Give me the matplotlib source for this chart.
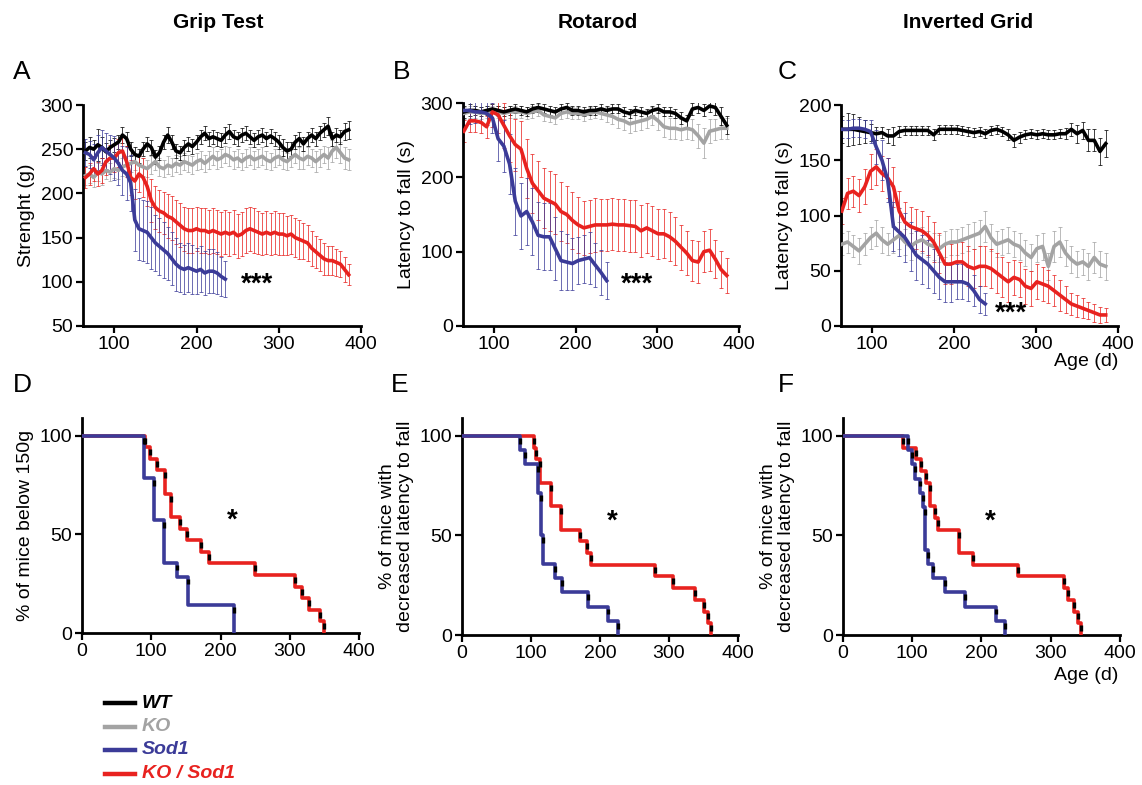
import numpy as np
import matplotlib
matplotlib.use("Agg")
import matplotlib.pyplot as plt
from matplotlib.lines import Line2D

plt.rcParams['font.family'] = ['Liberation Sans', 'DejaVu Sans']

# ---------------- colours ----------------
C_WT, C_KO, C_SOD, C_KOSOD = '#000000', '#a3a3a3', '#3b3b98', '#e8221f'

# ---------------- Panel A: Grip test (age step 5 d) ----------------
ageA = np.arange(65, 386, 5)
ageA_sod = np.arange(65, 236, 5)
gripWT = [248,252,250,255,252,247,252,255,258,266,
          262,250,244,242,250,256,252,241,246,258,
          266,258,248,246,252,256,253,258,264,268,
          262,264,262,260,266,270,264,262,266,268,
          264,260,264,266,262,265,262,258,252,248,
          250,258,262,256,262,266,262,268,272,276,
          262,266,264,270,272]
gripWT_err = [10,12,10,18,12,10,8,8,8,9,
              8,8,8,8,8,8,8,8,8,8,
              9,8,8,8,8,8,8,8,8,8,
              8,8,8,8,9,8,8,8,8,8,
              8,8,8,8,8,8,8,8,10,10,
              8,8,8,8,8,8,8,8,8,10,
              8,8,8,10,10]
gripKO = [220,222,218,224,222,226,224,228,226,230,
          232,234,236,232,230,228,232,236,230,228,
          232,230,234,232,236,234,232,236,238,234,
          238,242,238,240,244,242,238,240,236,240,
          242,238,240,242,238,236,240,242,238,236,
          240,244,240,238,242,240,236,240,244,240,
          248,252,246,240,238]
gripKO_err = [10,10,11,10,12,10,10,11,10,10,
              10,10,10,11,10,10,10,10,10,10,
              10,10,10,10,10,10,10,10,10,10,
              10,10,10,10,10,11,10,10,10,10,
              10,10,10,10,10,10,10,10,10,10,
              10,10,12,10,10,10,12,10,10,12,
              12,12,12,12,12]
gripSOD = [246,244,238,246,252,248,244,240,234,226,
           222,212,170,160,158,156,150,144,140,136,
           132,126,120,116,114,116,114,112,114,110,
           112,112,110,106,103]
gripSOD_err = [15,15,18,20,20,20,22,25,25,28,
               30,32,35,35,35,35,35,32,32,32,
               30,30,30,28,28,28,28,26,26,25,
               25,25,24,22,20]
gripKOSOD = [218,222,228,222,226,236,240,240,246,248,
             236,218,214,222,218,208,192,184,180,178,
             174,172,168,164,160,158,158,160,158,158,
             156,158,156,154,156,154,156,152,154,158,
             160,158,156,154,156,154,156,154,154,152,
             154,150,148,146,144,138,134,130,126,124,
             124,122,120,114,108]
gripKOSOD_err = [12,12,14,14,14,15,15,16,16,16,
                 18,20,20,20,22,22,24,24,24,24,
                 25,25,25,25,25,25,25,25,25,25,
                 25,25,25,25,25,25,25,25,25,25,
                 25,25,24,24,24,24,24,24,24,22,
                 22,22,22,20,20,20,18,18,18,16,
                 16,15,15,14,12]

# ---------------- Panel B: Rotarod (age step 7 d) ----------------
ageB = np.arange(63, 386, 7)
ageB_sod = np.arange(63, 239, 7)
rotWT = [288,290,290,288,290,292,290,288,290,292,
         290,288,292,294,292,290,288,292,294,290,
         290,288,290,290,292,290,292,292,288,286,
         290,288,286,290,292,288,288,286,280,276,
         292,294,290,296,294,282,270]
rotWT_err = [8,8,6,6,6,6,6,6,6,6,
             6,6,6,6,6,6,6,6,6,6,
             6,6,6,6,6,6,6,6,6,6,
             6,6,6,6,6,6,6,6,8,8,
             8,8,8,8,10,12,12]
rotKO = [286,288,288,286,288,288,288,286,288,288,
         288,286,288,290,284,282,280,286,288,286,
         286,284,286,288,286,284,282,278,276,272,
         274,276,278,282,276,268,266,266,264,266,
         264,256,246,262,264,266,266]
rotKO_err = [8,8,8,8,8,8,8,8,8,8,
             8,8,8,8,8,8,8,8,8,8,
             8,8,8,8,8,10,10,12,12,12,
             12,12,12,12,12,14,14,14,14,14,
             14,16,20,16,14,14,14]
rotSOD = [290,290,288,288,286,280,252,242,218,168,
          148,154,140,122,120,120,104,88,86,84,
          88,90,92,82,72,61]
rotSOD_err = [20,18,15,15,15,20,30,35,40,45,
              45,45,45,45,45,45,42,40,38,35,
              32,32,35,30,30,25]
rotKOSOD = [262,276,276,274,268,288,284,270,256,244,
            238,212,192,182,172,168,164,154,150,142,
            136,132,134,136,136,136,137,136,136,135,
            134,128,132,128,124,124,120,114,106,98,
            88,86,100,102,90,76,68]
rotKOSOD_err = [15,15,15,15,15,20,25,30,35,35,
                38,40,40,40,40,40,40,40,38,38,
                38,36,36,36,35,35,35,35,35,35,
                35,35,34,34,34,33,33,32,30,30,
                28,28,28,28,26,25,24]

# ---------------- Panel C: Inverted grid (age step 7 d) ----------------
gridWT = [178,178,178,177,176,175,174,175,172,172,
          176,177,177,177,177,177,173,178,178,178,
          178,177,176,175,176,174,177,178,176,173,
          168,171,173,174,173,174,173,173,174,174,
          178,174,177,168,168,158,165]
gridWT_err = [12,15,14,12,10,8,6,5,6,8,
              5,4,4,4,4,4,5,4,4,4,
              4,4,4,4,4,4,4,4,4,5,
              6,5,4,4,4,4,4,4,4,5,
              6,8,8,10,10,12,12]
gridKO = [74,76,72,68,74,80,84,78,74,78,
          82,76,72,76,78,74,72,70,74,76,
          76,78,80,82,84,90,80,74,76,78,
          74,72,66,62,70,72,54,72,76,66,
          60,56,58,54,62,56,54]
gridKO_err = [10,10,10,12,10,10,12,12,10,12,
              12,12,12,12,12,12,12,12,12,12,
              12,12,12,12,12,14,12,12,12,12,
              12,12,12,12,12,12,12,14,14,12,
              12,12,12,12,14,12,12]
gridSOD = [178,178,179,179,178,176,162,150,132,90,
           85,80,72,64,60,56,50,44,40,40,
           40,40,38,32,24,20]
gridSOD_err = [8,8,8,8,8,10,15,18,20,22,
               22,22,22,22,22,22,20,20,18,18,
               16,16,15,14,12,10]
gridKOSOD = [104,120,122,118,126,140,144,138,134,126,
             104,94,90,88,86,82,76,66,56,56,
             58,58,54,52,54,54,52,48,44,40,
             44,42,36,34,40,38,36,32,28,24,
             20,18,16,14,12,10,10]
gridKOSOD_err = [12,14,14,15,16,16,16,16,18,18,
                 18,18,18,18,18,18,18,18,18,18,
                 18,18,18,18,18,18,18,18,18,18,
                 16,16,16,16,16,15,15,14,14,12,
                 10,10,9,8,8,7,6]

# ---------------- Kaplan-Meier style curves (D, E, F) ----------------
D_sod_t = [0, 90, 104, 118, 137, 153, 220]
D_sod_s = [100, 78.6, 57.1, 35.7, 28.6, 14.3, 0]
D_kosod_t = [0, 91, 98, 108, 120, 128, 141, 151, 172, 183, 250, 308, 317, 328, 344, 349]
D_kosod_s = [100, 94.1, 88.2, 82.4, 70.6, 58.8, 52.9, 47.1, 41.2, 35.3, 29.4, 23.5, 17.6, 11.8, 5.9, 0]

E_sod_t = [0, 84, 91, 110, 114, 117, 135, 145, 183, 212, 226]
E_sod_s = [100, 92.9, 85.7, 71.4, 50.0, 35.7, 28.6, 21.4, 14.3, 7.1, 0]
E_kosod_t = [0, 104, 107, 113, 129, 143, 171, 181, 187, 279, 306, 337, 350, 356, 361]
E_kosod_s = [100, 94.1, 88.2, 76.5, 64.7, 52.9, 47.1, 41.2, 35.3, 29.4, 23.5, 17.6, 11.8, 5.9, 0]

F_sod_t = [0, 94, 99, 104, 111, 116, 118, 123, 130, 147, 176, 221, 234]
F_sod_s = [100, 92.9, 85.7, 78.6, 71.4, 64.3, 42.9, 35.7, 28.6, 21.4, 14.3, 7.1, 0]
F_kosod_t = [0, 87, 106, 113, 120, 126, 133, 137, 168, 188, 253, 319, 325, 333, 340, 343]
F_kosod_s = [100, 94.1, 88.2, 82.4, 76.5, 64.7, 58.8, 52.9, 41.2, 35.3, 29.4, 23.5, 17.6, 11.8, 5.9, 0]

titles = ['Grip Test', 'Rotarod', 'Inverted Grid']
letters = ['A', 'B', 'C', 'D', 'E', 'F']
legend_labels = ['WT', 'KO', 'Sod1', 'KO / Sod1']

# ---------------- figure ----------------
W, H = 1142, 785
fig = plt.figure(figsize=(W/100, H/100), dpi=100)
fig.patch.set_facecolor('white')

def ax_px(l, t, r, b):
    return fig.add_axes([l/W, 1-b/H, (r-l)/W, (b-t)/H])

TICK_FS = 14
LAB_FS = 14

def style(ax):
    for s in ['top', 'right']:
        ax.spines[s].set_visible(False)
    for s in ['left', 'bottom']:
        ax.spines[s].set_linewidth(2.0)
    ax.tick_params(direction='out', length=5, width=1.6, labelsize=TICK_FS, pad=2)

def series(ax, x, y, e, c, lw=2.6):
    ax.errorbar(x, y, yerr=e, fmt='none', ecolor=c, elinewidth=0.7,
                capsize=1.6, capthick=0.7, alpha=0.75, zorder=2)
    ax.plot(x, y, color=c, lw=lw, zorder=3, solid_joinstyle='round')

def km(ax, t, s, c):
    ax.plot(t, s, drawstyle='steps-post', color=c, lw=2.6, zorder=3)
    for i in range(1, len(t)):
        top = s[i-1]
        ax.plot([t[i], t[i]], [top - 1.0, top - 4.0], color='black', lw=2.4,
                zorder=4, solid_capstyle='butt')

# --- A ---
axA = ax_px(83, 105, 361, 326)
series(axA, ageA, gripKO, gripKO_err, C_KO)
series(axA, ageA, gripWT, gripWT_err, C_WT)
series(axA, ageA, gripKOSOD, gripKOSOD_err, C_KOSOD)
series(axA, ageA_sod, gripSOD, gripSOD_err, C_SOD)
axA.set_xlim(62, 400); axA.set_ylim(50, 300)
axA.set_xticks([100, 200, 300, 400]); axA.set_yticks([50, 100, 150, 200, 250, 300])
axA.set_ylabel('Strenght (g)', fontsize=LAB_FS, labelpad=4)
axA.text(273, 97, '***', fontsize=20, fontweight='bold', ha='center', va='center')
style(axA)

# --- B ---
axB = ax_px(463, 103, 739, 326)
series(axB, ageB, rotKO, rotKO_err, C_KO)
series(axB, ageB, rotWT, rotWT_err, C_WT)
series(axB, ageB, rotKOSOD, rotKOSOD_err, C_KOSOD)
series(axB, ageB_sod, rotSOD, rotSOD_err, C_SOD)
axB.set_xlim(62, 400); axB.set_ylim(0, 300)
axB.set_xticks([100, 200, 300, 400]); axB.set_yticks([0, 100, 200, 300])
axB.set_ylabel('Latency to fall (s)', fontsize=LAB_FS, labelpad=4)
axB.text(275, 55, '***', fontsize=20, fontweight='bold', ha='center', va='center')
style(axB)

# --- C ---
axC = ax_px(841, 105, 1118, 326)
series(axC, ageB, gridKO, gridKO_err, C_KO)
series(axC, ageB, gridWT, gridWT_err, C_WT)
series(axC, ageB, gridKOSOD, gridKOSOD_err, C_KOSOD)
series(axC, ageB_sod, gridSOD, gridSOD_err, C_SOD)
axC.set_xlim(62, 400); axC.set_ylim(0, 200)
axC.set_xticks([100, 200, 300, 400]); axC.set_yticks([0, 50, 100, 150, 200])
axC.set_ylabel('Latency to fall (s)', fontsize=LAB_FS, labelpad=4)
axC.text(270, 11, '***', fontsize=20, fontweight='bold', ha='center', va='center')
style(axC)

# --- D, E, F ---
axD = ax_px(82, 418, 359, 633)
axE = ax_px(462, 418, 738, 635)
axF = ax_px(843, 418, 1120, 635)
km_sets = [(axD, D_sod_t, D_sod_s, D_kosod_t, D_kosod_s, (217, 57)),
           (axE, E_sod_t, E_sod_s, E_kosod_t, E_kosod_s, (218, 57)),
           (axF, F_sod_t, F_sod_s, F_kosod_t, F_kosod_s, (213, 57))]
for ax, st, ss, kt, ks, star in km_sets:
    km(ax, kt, ks, C_KOSOD)
    km(ax, st, ss, C_SOD)
    ax.set_xlim(0, 400); ax.set_ylim(0, 109)
    ax.set_xticks([0, 100, 200, 300, 400]); ax.set_yticks([0, 50, 100])
    ax.text(star[0], star[1], '*', fontsize=20, fontweight='bold', ha='center', va='center')
    style(ax)
axD.set_ylabel('% of mice below 150g', fontsize=LAB_FS, labelpad=4)
axE.set_ylabel('% of mice with\ndecreased latency to fall', fontsize=LAB_FS, labelpad=4, linespacing=1.1)
axF.set_ylabel('% of mice with\ndecreased latency to fall', fontsize=LAB_FS, labelpad=4, linespacing=1.1)

# --- titles, letters, extra labels ---
for x, t in zip([218, 598, 968], titles):
    fig.text(x/W, 1-22/H, t, fontsize=15, fontweight='bold', ha='center', va='center')
for (x, y), L in zip([(22, 72), (402, 72), (787, 72), (22, 385), (400, 385), (786, 385)], letters):
    fig.text(x/W, 1-y/H, L, fontsize=19, ha='center', va='center')
fig.text(1118/W, 1-362/H, 'Age (d)', fontsize=LAB_FS, ha='right', va='center')
fig.text(1118/W, 1-676/H, 'Age (d)', fontsize=LAB_FS, ha='right', va='center')

# --- legend ---
for i, (lab, c) in enumerate(zip(legend_labels, [C_WT, C_KO, C_SOD, C_KOSOD])):
    y = 1 - (703 + i*23.5)/H
    fig.add_artist(Line2D([105/W, 135/W], [y, y], color=c, lw=3.2, transform=fig.transFigure))
    fig.text(142/W, y, lab, color=c, fontsize=14, fontweight='bold', style='italic',
             ha='left', va='center')

fig.savefig('out.png', dpi=100, facecolor='white')
